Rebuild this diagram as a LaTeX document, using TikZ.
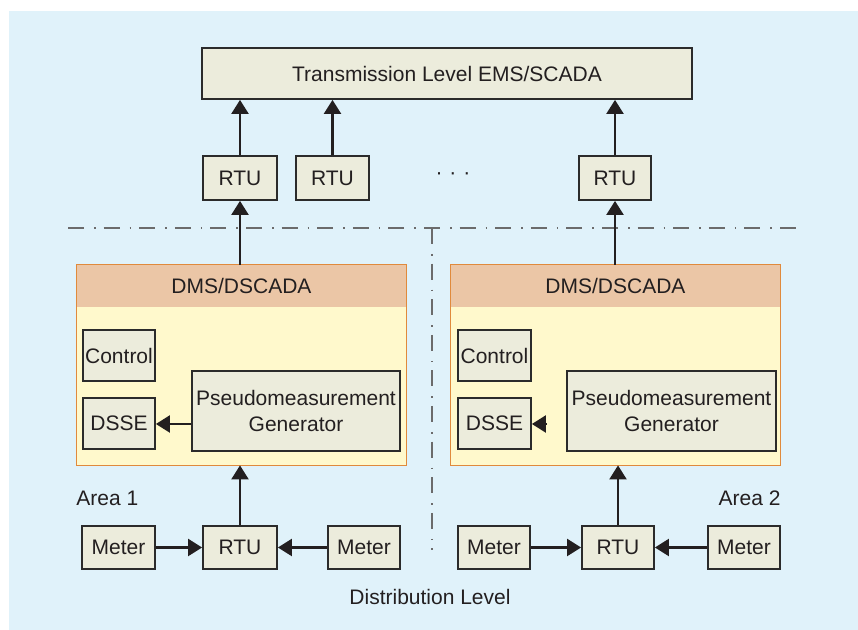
\documentclass[tikz,border=0pt]{standalone}
\usepackage{fontspec}
\setmainfont{Liberation Sans}
\usetikzlibrary{arrows.meta}
\definecolor{bgblue}{HTML}{E0F2FA}
\definecolor{boxfill}{HTML}{ECECDC}
\definecolor{boxline}{HTML}{2B2B2B}
\definecolor{hdrfill}{HTML}{EBC6A6}
\definecolor{bodyfill}{HTML}{FFF9CC}
\definecolor{dmsline}{HTML}{E08A3C}
\definecolor{txt}{HTML}{231F20}
\definecolor{sepline}{HTML}{6B6B6B}
\tikzset{
  lbl/.style={font=\fontsize{10.5}{13}\selectfont, text=txt},
  blk/.style={lbl, draw=boxline, fill=boxfill, line width=0.9pt, inner sep=0pt, align=center},
  dmsbody/.style={fill=bodyfill, inner sep=0pt, minimum width=164.5pt, minimum height=100pt},
  dmshdr/.style={lbl, fill=hdrfill, inner sep=0pt, minimum width=164.5pt, minimum height=21pt},
  dmsframe/.style={draw=dmsline, line width=0.8pt},
  conn/.style={draw=txt, line width=1.1pt, -{Triangle[length=7pt,width=8.5pt]}},
  sep/.style={draw=sepline, line width=1pt, dash pattern=on 8pt off 5pt on 0.8pt off 4pt}
}
\begin{document}
\begin{tikzpicture}[x=0.5pt,y=-0.5pt]
\useasboundingbox (0,0) rectangle (858,630);
\fill[bgblue] (9,11) rectangle (858,630);

% transmission level
\node[blk, minimum width=245pt, minimum height=25.5pt] (trans) at (447,73.5) {Transmission Level EMS/SCADA};
\node[blk, minimum width=37pt, minimum height=22pt] (rtu1) at (240,178) {RTU};
\node[blk, minimum width=36.5pt, minimum height=22pt] (rtu2) at (332.5,178) {RTU};
\node[blk, minimum width=36pt, minimum height=22pt] (rtu3) at (615,178) {RTU};
\node[lbl] (dots) at (453,176) {·\,\,·\,\,·};

% separators
\coordinate (hl) at (68,228);
\coordinate (hr) at (798,228);
\coordinate (vt) at (432,228);
\coordinate (vb) at (432,550);
\draw[sep] (hl) -- (hr);
\draw[sep] (vt) -- (vb);

% DMS area 1
\node[dmsbody] (dms1) at (241.5,365) {};
\node[dmshdr, anchor=north] (hdr1) at (dms1.north) {DMS/DSCADA};
\draw[dmsframe] (dms1.north west) rectangle (dms1.south east);
\node[blk, minimum width=36pt, minimum height=25.5pt] (ctl1) at (119,355.5) {Control};
\node[blk, minimum width=36pt, minimum height=25.5pt] (dsse1) at (119,423.5) {DSSE};
\node[blk, minimum width=104pt, minimum height=40pt] (pg1) at (296,411) {Pseudomeasurement\\Generator};

% DMS area 2
\node[dmsbody] (dms2) at (615.5,365) {};
\node[dmshdr, anchor=north] (hdr2) at (dms2.north) {DMS/DSCADA};
\draw[dmsframe] (dms2.north west) rectangle (dms2.south east);
\node[blk, minimum width=36.5pt, minimum height=25.5pt] (ctl2) at (494.5,355.5) {Control};
\node[blk, minimum width=36.5pt, minimum height=25.5pt] (dsse2) at (494.5,423.5) {DSSE};
\node[blk, minimum width=104.5pt, minimum height=40pt] (pg2) at (671.5,411) {Pseudomeasurement\\Generator};

% bottom rows
\node[blk, minimum width=36.5pt, minimum height=21.5pt] (m1) at (118.5,547.5) {Meter};
\node[blk, minimum width=37pt, minimum height=21.5pt] (rb1) at (240,547.5) {RTU};
\node[blk, minimum width=36pt, minimum height=21.5pt] (m2) at (364,547.5) {Meter};
\node[blk, minimum width=36pt, minimum height=21.5pt] (m3) at (494,547.5) {Meter};
\node[blk, minimum width=36pt, minimum height=21.5pt] (rb2) at (618,547.5) {RTU};
\node[blk, minimum width=36pt, minimum height=21.5pt] (m4) at (744,547.5) {Meter};

% labels
\node[lbl, anchor=west, inner sep=0pt] (a1) at (76,498) {Area 1};
\node[lbl, anchor=east, inner sep=0pt] (a2) at (781,498) {Area 2};
\node[lbl] (dist) at (430,597) {Distribution Level};

% connectors
\draw[conn] (rtu1.north) -- (rtu1.north |- trans.south);
\draw[conn] (rtu2.north) -- (rtu2.north |- trans.south);
\draw[conn] (rtu3.north) -- (rtu3.north |- trans.south);
\draw[conn] (rtu1.south |- dms1.north) -- (rtu1.south);
\draw[conn] (rtu3.south |- dms2.north) -- (rtu3.south);
\draw[conn] (pg1.west |- 0,424) -- (dsse1.east |- 0,424);
\coordinate (tip2) at (547,424);
\draw[conn] (tip2) -- (dsse2.east |- tip2);
\draw[conn] (rb1.north) -- (rb1.north |- dms1.south);
\draw[conn] (rb2.north) -- (rb2.north |- dms2.south);
\draw[conn] (m1.east) -- (rb1.west);
\draw[conn] (m2.west) -- (rb1.east);
\draw[conn] (m3.east) -- (rb2.west);
\draw[conn] (m4.west) -- (rb2.east);
\end{tikzpicture}
\end{document}
